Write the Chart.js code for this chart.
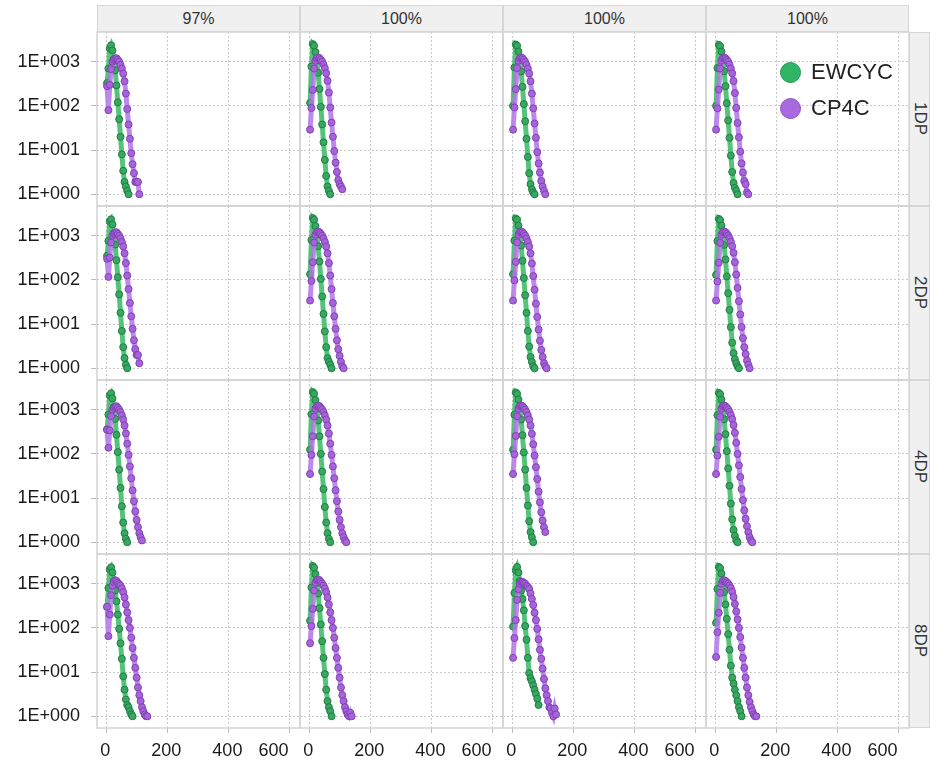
<!DOCTYPE html>
<html>
<head>
<meta charset="utf-8">
<script src="https://cdn.jsdelivr.net/npm/chart.js@4/dist/chart.umd.min.js"></script>
<style>
  html, body { margin: 0; padding: 0; background: #fff; }
  #page { position: relative; width: 937px; height: 764px; overflow: hidden; background: #fff;
          font-family: 'Liberation Sans', Arial, sans-serif; }
  #page canvas { position: absolute; }
  .strip { position: absolute; box-sizing: border-box; background: #f0f0f0; border: 1px solid #d6d6d6;
           color: #333; font-size: 16px; display: flex; align-items: center; justify-content: center; }
  .strip.row span { writing-mode: vertical-rl; font-size: 17px; }
  .legend-item { position: absolute; display: flex; align-items: center; font-size: 22px; color: #222; }
  .legend-dot { width: 21px; height: 21px; border-radius: 50%; box-sizing: border-box; margin-right: 10px; }
</style>
</head>
<body>
<div id="page"></div>
<script>
// Facets and series
const columnLabels = ['97%', '100%', '100%', '100%'];
const rowLabels = ['1DP', '2DP', '4DP', '8DP'];
const seriesNames = ['EWCYC', 'CP4C'];

// Bin centres shared by every series (x axis)
const binCenters = [1, 5.4, 9.8, 14.2, 18.6, 23, 27.4, 31.8, 36.2, 40.6, 45, 49.4, 53.8, 58.2, 62.6, 67,
  71.4, 75.8, 80.2, 84.6, 89, 93.4, 97.8, 102.2, 106.6, 111, 115.4, 119.8, 124.2, 128.6, 133, 137.4, 141.8];

// Axis ticks (the x list starts with the unlabelled left edge of the panel)
const xTicks = [-32, 0, 200, 400, 600];
const yTicks = [1, 10, 100, 1000];

// EWCYC counts per bin, one list per column (97%, 100%, 100%, 100%)
const ewcyc1DP = [
  [330, 700, 2000, 2350, 1800, 1150, 640, 290, 120, 50, 20, 8, 3.4, 1.9, 1.5, 1.2, 1],
  [117, 780, 2500, 2300, 1650, 1050, 560, 240, 95, 38, 15, 6, 2.6, 1.5, 1.2, 1],
  [100, 740, 2450, 2300, 1700, 1100, 600, 270, 110, 45, 18, 7, 3, 1.7, 1.3, 1.1, 1],
  [100, 720, 2400, 2250, 1700, 1100, 610, 280, 115, 47, 19, 7.5, 3.2, 1.8, 1.4, 1.2, 1]
];
const ewcyc2DP = [
  [350, 760, 2100, 2350, 1800, 1150, 630, 280, 115, 47, 18, 7, 3, 1.7, 1.2, 1],
  [134, 800, 2500, 2300, 1650, 1050, 580, 260, 105, 42, 17, 6.8, 3, 1.7, 1.4, 1.2, 1],
  [134, 780, 2450, 2300, 1700, 1100, 600, 270, 110, 45, 18, 7, 3.1, 1.8, 1.4, 1.1, 1],
  [130, 760, 2400, 2250, 1700, 1100, 620, 290, 120, 50, 21, 8.5, 3.8, 2.2, 1.6, 1.3, 1.1, 1]
];
const ewcyc4DP = [
  [360, 780, 2100, 2350, 1800, 1150, 620, 270, 110, 44, 17, 6.5, 2.8, 1.6, 1.2, 1],
  [124, 790, 2500, 2300, 1650, 1050, 570, 250, 100, 40, 16, 6.3, 2.8, 1.6, 1.2, 1],
  [124, 770, 2450, 2300, 1700, 1100, 600, 265, 108, 44, 17, 6.8, 3, 1.7, 1.3, 1],
  [124, 750, 2400, 2250, 1700, 1100, 610, 280, 115, 47, 19, 7.5, 3.3, 1.9, 1.4, 1.1, 1]
];
const ewcyc8DP = [
  [300, 800, 2100, 2350, 1800, 1150, 700, 400, 200, 95, 45, 20, 8, 4, 2.4, 1.8, 1.6, 1.3, 1.1, 1],
  [145, 820, 2500, 2300, 1650, 1050, 600, 280, 120, 50, 21, 9, 4, 2.2, 1.6, 1.3, 1],
  [107, 620, 2000, 2400, 1800, 1150, 700, 450, 250, 110, 54, 21, 9.5, 7.3, 6.2, 5, 4, 3.2, 2.5, 1.8],
  [130, 760, 2400, 2250, 1700, 1100, 650, 340, 160, 72, 32, 14, 7.5, 5.5, 4, 3, 2.2, 1.6, 1.3, 1]
];

// CP4C counts per bin, one list per column
const cp4c1DP = [
  [280, 80, 300, 680, 1000, 1100, 1150, 1200, 1100, 1000, 850, 700, 540, 360, 190, 85, 38, 18, 8.5, 4.8, 3, 1.9, 1.9, 1.9, 1],
  [29, 90, 230, 700, 1050, 1200, 1250, 1200, 1100, 1000, 860, 710, 550, 370, 200, 92, 42, 20, 9.5, 5.2, 3.2, 2.1, 1.7, 1.5, 1.3],
  [29, 92, 240, 720, 1050, 1200, 1250, 1200, 1100, 990, 850, 700, 540, 360, 190, 88, 40, 19, 9, 5, 3.1, 2, 1.5, 1.2, 1],
  [29, 88, 235, 700, 1050, 1200, 1250, 1200, 1100, 1000, 860, 700, 545, 365, 195, 90, 41, 19.5, 9.2, 5, 3.1, 2, 1.7, 1.1, 1]
];
const cp4c2DP = [
  [300, 117, 320, 700, 1000, 1100, 1150, 1200, 1100, 1000, 870, 720, 570, 400, 240, 125, 62, 30, 15, 7.8, 4.3, 2.7, 2, 2, 1.3],
  [34, 95, 250, 700, 1050, 1200, 1250, 1200, 1100, 1000, 870, 720, 570, 400, 240, 125, 62, 30, 15, 7.8, 4.3, 2.7, 1.9, 1.4, 1.1, 1],
  [34, 98, 255, 710, 1050, 1200, 1250, 1200, 1100, 1000, 870, 720, 570, 400, 235, 122, 60, 29, 14.5, 7.5, 4.2, 2.6, 1.8, 1.3, 1.1, 1],
  [34, 92, 245, 690, 1050, 1200, 1250, 1200, 1110, 1010, 880, 730, 580, 410, 250, 132, 66, 33, 16.5, 8.6, 4.8, 3, 2.1, 1.5, 1.2, 1]
];
const cp4c4DP = [
  [350, 138, 340, 720, 1000, 1100, 1150, 1200, 1100, 1000, 880, 740, 600, 440, 290, 170, 95, 52, 28, 15, 8.5, 5, 3.2, 2.2, 1.6, 1.3, 1.1],
  [35, 95, 250, 700, 1050, 1200, 1250, 1200, 1100, 1000, 880, 740, 600, 440, 290, 170, 95, 52, 28, 15, 8.5, 5, 3.2, 2.2, 1.6, 1.3, 1.1, 1],
  [35, 98, 255, 710, 1050, 1200, 1250, 1200, 1100, 1000, 880, 740, 600, 440, 285, 165, 92, 50, 27, 14, 8, 4.8, 3.1, 2.2, 1.7],
  [35, 92, 245, 690, 1050, 1200, 1250, 1200, 1110, 1010, 890, 750, 610, 450, 300, 178, 100, 55, 30, 16, 9, 5.3, 3.4, 2.3, 1.7, 1.3, 1.1, 1]
];
const cp4c8DP = [
  [300, 65, 200, 550, 900, 1100, 1200, 1150, 1050, 980, 900, 780, 640, 490, 340, 225, 150, 100, 60, 35, 21, 12.5, 7.5, 4.5, 3, 2.2, 1.6, 1.3, 1.1, 1, 1],
  [45, 110, 270, 700, 1050, 1200, 1250, 1200, 1100, 1000, 900, 780, 640, 490, 340, 225, 150, 100, 60, 35, 21, 12.5, 7.5, 4.5, 3, 2.2, 1.6, 1.3, 1.1, 1, 1.2, 1],
  [21, 59, 150, 430, 750, 1000, 1100, 1100, 1050, 1000, 900, 850, 760, 600, 450, 330, 220, 150, 95, 55, 32, 20, 12, 7, 4.3, 3, 2.2, 1.6, 1.5, 1.2, 1, 1.5, 1.1],
  [22, 80, 220, 620, 1000, 1150, 1200, 1150, 1080, 1000, 900, 800, 660, 500, 350, 235, 155, 100, 62, 36, 21, 12.5, 7.5, 4.5, 3, 2.1, 1.6, 1.3, 1.1, 1, 1]
];

const ewcycRows = [ewcyc1DP, ewcyc2DP, ewcyc4DP, ewcyc8DP];
const cp4cRows = [cp4c1DP, cp4c2DP, cp4c4DP, cp4c8DP];

// Page geometry of the facet grid
const PANEL_LEFT = [97, 300, 503, 706];
const PANEL_TOP = [32, 206, 380, 554];
const PANEL_W = 203, PANEL_H = 174, PAGE_H = 764, MARGIN = 30;
const STRIP_RIGHT_W = 21;
const X_MIN = -32, X_MAX = 633;

const COLORS = {
  EWCYC: { line: 'rgba(66,190,108,0.9)', fill: '#36a860', edge: '#217d43' },
  CP4C:  { line: 'rgba(178,118,232,0.85)', fill: '#a862dc', edge: '#7d44b0' }
};

Chart.defaults.font.family = "'Liberation Sans', Arial, sans-serif";
Chart.defaults.color = '#1a1a1a';

const page = document.getElementById('page');

// Light grey frame round each panel
const panelFrame = {
  id: 'panelFrame',
  beforeDatasetsDraw(chart) {
    const { ctx, chartArea: a } = chart;
    ctx.save();
    ctx.strokeStyle = '#d4d4d4';
    ctx.lineWidth = 1.5;
    ctx.strokeRect(a.left, a.top, a.right - a.left, a.bottom - a.top);
    ctx.restore();
  }
};

function toPoints(values) {
  return values.map((v, i) => ({ x: binCenters[i], y: v }));
}

function lineDataset(name, values) {
  const c = COLORS[name];
  return {
    label: name,
    data: toPoints(values),
    borderColor: c.line,
    borderWidth: 5,
    pointRadius: 3.5,
    pointBackgroundColor: c.fill,
    pointBorderColor: c.edge,
    pointBorderWidth: 1,
    tension: 0
  };
}

function yLabel(v) {
  const e = Math.round(Math.log10(v));
  return '1E+' + String(e).padStart(3, '0');
}

// the left-edge tick carries no label, grid line or tick mark
const isEdgeTick = ctx => ctx.tick && ctx.tick.value <= X_MIN;

for (let r = 0; r < 4; r++) {
  for (let c = 0; c < 4; c++) {
    const left = c === 0 ? 0 : PANEL_LEFT[c] - MARGIN;
    const top = PANEL_TOP[r] - MARGIN;
    const right = PANEL_LEFT[c] + PANEL_W + MARGIN;
    const bottom = r === 3 ? PAGE_H : PANEL_TOP[r] + PANEL_H + MARGIN;
    const cv = document.createElement('canvas');
    cv.width = right - left;
    cv.height = bottom - top;
    cv.style.left = left + 'px';
    cv.style.top = top + 'px';
    cv.style.width = (right - left) + 'px';
    cv.style.height = (bottom - top) + 'px';
    page.appendChild(cv);

    const showY = c === 0;
    const showX = r === 3;

    new Chart(cv, {
      type: 'line',
      data: {
        datasets: [
          lineDataset('CP4C', cp4cRows[r][c]),
          lineDataset('EWCYC', ewcycRows[r][c])
        ]
      },
      options: {
        responsive: false,
        animation: false,
        devicePixelRatio: 1,
        events: [],
        layout: {
          padding: { left: showY ? 0 : MARGIN, top: MARGIN, right: MARGIN, bottom: showX ? 0 : MARGIN }
        },
        plugins: { legend: { display: false }, tooltip: { enabled: false } },
        scales: {
          x: {
            type: 'linear',
            min: X_MIN,
            max: X_MAX,
            afterBuildTicks: s => { s.ticks = xTicks.map(v => ({ value: v })); },
            afterFit: s => { s.height = showX ? PAGE_H - (PANEL_TOP[3] + PANEL_H) : 0; },
            grid: {
              color: ctx => isEdgeTick(ctx) ? 'rgba(0,0,0,0)' : '#c9c9c9',
              lineWidth: 1, drawTicks: showX, tickLength: 5,
              tickColor: ctx => isEdgeTick(ctx) ? 'rgba(0,0,0,0)' : '#bdbdbd',
              tickBorderDash: []
            },
            border: { display: false, dash: [2, 2] },
            ticks: {
              display: showX, font: { size: 18 }, color: '#1a1a1a', padding: 7,
              align: 'inner', labelOffset: -1.5,
              maxRotation: 0, autoSkip: false,
              callback: v => (v <= X_MIN ? '' : String(v))
            }
          },
          y: {
            type: 'logarithmic',
            min: 0.543,
            max: 4700,
            afterBuildTicks: s => { s.ticks = yTicks.map(v => ({ value: v })); },
            afterFit: s => { s.width = showY ? PANEL_LEFT[0] : 0; },
            grid: { color: '#c9c9c9', lineWidth: 1, drawTicks: showY, tickLength: 6,
                    tickColor: '#bdbdbd', tickBorderDash: [] },
            border: { display: false, dash: [2, 2] },
            ticks: { display: showY, font: { size: 18 }, color: '#1a1a1a', padding: 11,
                     autoSkip: false, callback: v => yLabel(v) }
          }
        }
      },
      plugins: [panelFrame]
    });
  }
}

// Column strips along the top
columnLabels.forEach((txt, c) => {
  const d = document.createElement('div');
  d.className = 'strip';
  d.style.left = PANEL_LEFT[c] + 'px';
  d.style.top = '5px';
  d.style.width = PANEL_W + 'px';
  d.style.height = (PANEL_TOP[0] - 5) + 'px';
  d.textContent = txt;
  page.appendChild(d);
});

// Row strips down the right side
rowLabels.forEach((txt, r) => {
  const d = document.createElement('div');
  d.className = 'strip row';
  d.style.left = (PANEL_LEFT[3] + PANEL_W) + 'px';
  d.style.top = PANEL_TOP[r] + 'px';
  d.style.width = STRIP_RIGHT_W + 'px';
  d.style.height = PANEL_H + 'px';
  const s = document.createElement('span');
  s.textContent = txt;
  d.appendChild(s);
  page.appendChild(d);
});

// Legend in the top-right panel
seriesNames.forEach((name, i) => {
  const item = document.createElement('div');
  item.className = 'legend-item';
  item.style.left = '780px';
  item.style.top = (60 + i * 36) + 'px';
  item.style.height = '24px';
  const dot = document.createElement('div');
  dot.className = 'legend-dot';
  dot.style.background = name === 'EWCYC' ? '#30b566' : '#a96ae0';
  dot.style.border = '1.5px solid ' + (name === 'EWCYC' ? '#26924f' : '#8a50c2');
  item.appendChild(dot);
  const t = document.createElement('span');
  t.textContent = name;
  item.appendChild(t);
  page.appendChild(item);
});
</script>
</body>
</html>
